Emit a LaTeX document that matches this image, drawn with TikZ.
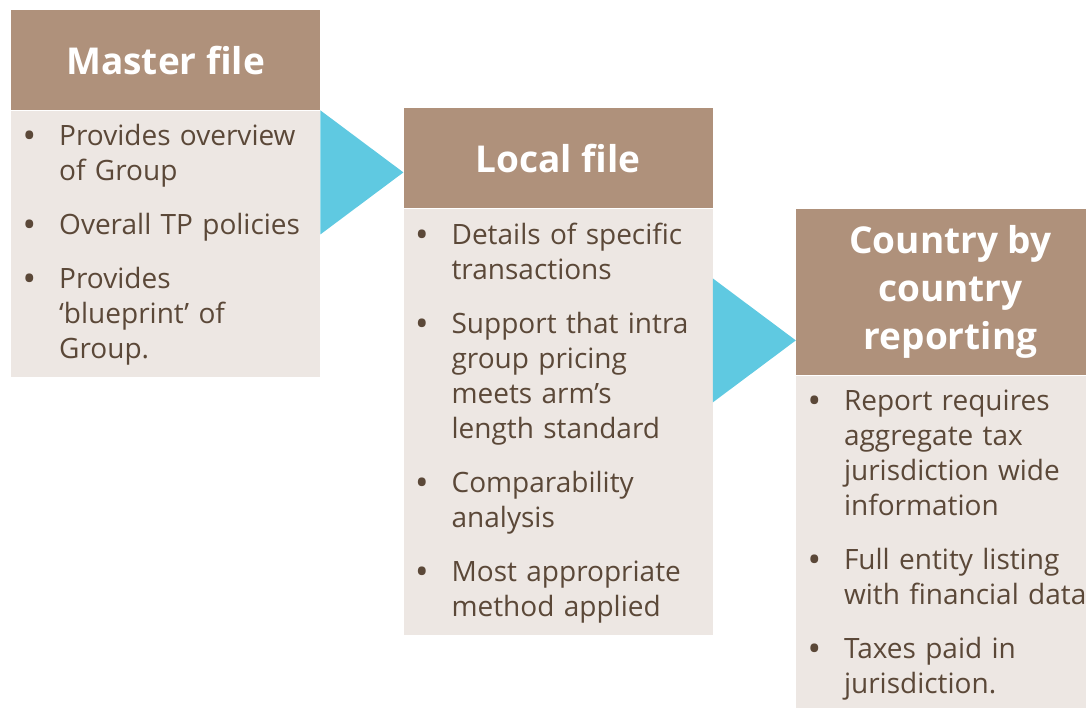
\documentclass[tikz,border=0pt]{standalone}
\usepackage{fontspec}
\setmainfont{Open Sans}
\usepackage{enumitem}
\usetikzlibrary{positioning,calc}
\definecolor{HeadClr}{HTML}{AF917B}
\definecolor{BodyClr}{HTML}{EDE7E3}
\definecolor{ArrowClr}{HTML}{5FC9E1}
\definecolor{TextClr}{HTML}{5B4838}
\setlist[itemize]{label={\bfseries\textbullet},leftmargin=35pt,labelindent=0pt,labelwidth=20pt,labelsep=15pt,align=left,topsep=0pt,partopsep=0pt,parsep=0pt,itemsep=19pt}
\newcommand{\bodytext}[2]{\begin{minipage}[t][#1][t]{290pt}\vspace*{14pt}\begin{itemize}#2\end{itemize}\end{minipage}}

\begin{document}
\begin{tikzpicture}[x=1pt,y=1pt,
  head/.style={fill=HeadClr,text=white,minimum width=309pt,inner sep=0pt,align=center,
    font=\fontsize{37}{48}\selectfont\bfseries},
  body/.style={fill=BodyClr,text=TextClr,minimum width=309pt,inner xsep=13pt,inner ysep=0pt,
    anchor=north,font=\fontsize{28}{35}\selectfont},
  tri/.style={fill=ArrowClr}]
\useasboundingbox (0,0) rectangle (1086,-708);

% headers
\node[head,minimum height=100pt,anchor=north west] (master) at (11,-10) {Master file};
\node[head,minimum height=100pt,right=83pt of master,yshift=-98pt] (local) {Local file};
\node[head,minimum height=166pt,anchor=north west] (cbc) at ($(local.north east)+(83,-101)$)
  {Country by\\country\\reporting};

% bodies
\node[body,below=0pt of master,text width=283pt] (masterbody) {\bodytext{266pt}{%
  \item Provides overview\\of Group
  \item Overall TP policies
  \item Provides\\`blueprint' of\\Group.}};
\node[body,below=0pt of local,text width=283pt] (localbody) {\bodytext{426pt}{%
  \item Details of specific\\transactions
  \item Support that intra\\group pricing\\meets arm's\\length standard
  \item Comparability\\analysis
  \item Most appropriate\\method applied}};
\node[body,below=0pt of cbc,text width=283pt] (cbcbody) {\bodytext{340pt}{%
  \item Report requires\\aggregate tax\\jurisdiction wide\\information
  \item Full entity listing\\with financial data
  \item Taxes paid in\\jurisdiction.}};

% arrows
\fill[tri] (masterbody.north east) -- ++(83,-62) -- ++(-83,-62) -- cycle;
\fill[tri] ($(localbody.north east)+(0,-70)$) -- ++(83,-62) -- ++(-83,-62) -- cycle;

\end{tikzpicture}
\end{document}
